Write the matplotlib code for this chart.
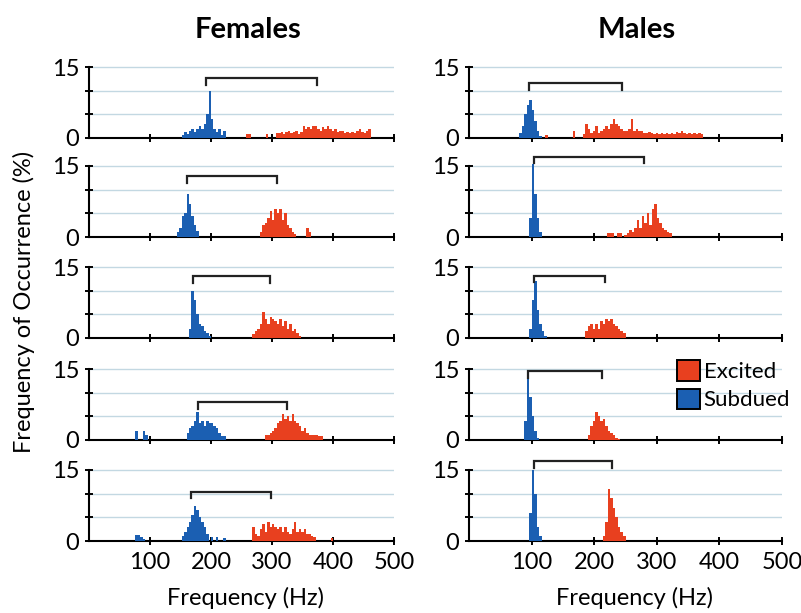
import matplotlib
matplotlib.use("Agg")
import matplotlib.pyplot as plt
from matplotlib.patches import Patch
import numpy as np

plt.rcParams['font.family'] = ['Lato', 'DejaVu Sans']

BIN = 4  # Hz

# ---- Females (rows 1-5): (start frequency, heights in 4-Hz bins) ----
F1_SUB_START = 152
F1_SUB = [0.7, 1.2, 0.8, 1.5, 1.8, 1.2, 2, 2.5, 2, 3, 5, 10, 4, 2, 1.3, 2, 0.6, 1.5]
F1_EXC_START = 258
F1_EXC = [0.8, 0.8, 0, 0, 0, 0, 0, 0, 0.8, 0, 0, 0, 1, 1, 1.2, 0.8, 1.2, 1.5, 1, 1.2,
          1.5, 0.8, 1.2, 2.5, 2, 2.3, 1.8, 2.5, 2.5, 2, 1.5, 2.3, 1.8, 2.5, 2, 1.5, 1.8,
          1.2, 1.5, 1.5, 1, 1.2, 1, 1.3, 1, 1.5, 1.8, 1.2, 1, 1.5, 1.8]

F2_SUB_START = 144
F2_SUB = [1, 2, 4.5, 5, 9, 7, 4.5, 2.5, 1.2]
F2_EXC_START = 280
F2_EXC = [1, 2.5, 3, 4, 5.5, 3.5, 6, 5, 6, 3.5, 5, 2.5, 2, 1, 0.7, 0, 0, 0, 0, 2, 1]

F3_SUB_START = 164
F3_SUB = [2, 10, 8, 5, 3, 2.5, 1.5, 1, 0.5]
F3_EXC_START = 268
F3_EXC = [0.8, 1.5, 2, 3, 5.5, 4, 3, 4.5, 4, 3.5, 3, 4, 2.5, 3.5, 2, 3, 1.5, 2, 1, 0.5]

F4_SUB_START = 76
F4_SUB = [2, 0, 0, 2, 1, 0, 0, 0, 0, 0, 0, 0, 0, 0, 0, 0, 0, 0, 0, 0, 0,
          1.5, 2.5, 3, 4, 6, 3.5, 4, 3, 4, 3.5, 3.5, 3, 2.5, 1.5, 0.8, 0.8]
F4_EXC_START = 288
F4_EXC = [1, 1, 1.5, 2, 2.5, 3.5, 4, 5.5, 4.5, 5, 4, 5.5, 4, 3.5, 3, 2, 2.5, 1.5,
          1, 1, 1, 1, 0.8, 0.8]

F5_SUB_START = 76
F5_SUB = [1.2, 1.2, 0.8, 0.5, 0, 0, 0, 0, 0, 0, 0, 0, 0, 0, 0, 0, 0, 0, 0,
          1, 2, 3, 4, 5.5, 7.5, 6.5, 5, 4, 3, 1.5, 0, 0.8, 0, 0.8, 0, 0, 0.7]
F5_EXC_START = 268
F5_EXC = [3, 1.5, 1, 2.5, 3.5, 2, 4, 3, 3.5, 3, 2.5, 3, 2, 3, 2, 1.5, 2.5, 4, 2, 2.5,
          2, 2.5, 1.5, 1.5, 1, 0.8, 0, 0, 0, 0, 0, 0, 0.7]

# ---- Males ----
M1_SUB_START = 80
M1_SUB = [1, 2.5, 5, 7, 8, 6, 3.5, 1.5, 0.5]
M1_EXC_START = 122
M1_EXC = [0.7, 0, 0, 0, 0, 0, 0, 0, 0, 0, 0, 1.5, 0, 0, 0, 0.8, 3, 2, 1, 1.5, 2.5, 1, 1.5,
          2, 2.5, 2, 3, 4, 3, 2.5, 2, 1.5, 1.5, 2, 4, 1.5, 2, 1.5, 1.5, 1, 1, 1.2, 1, 0.8,
          1, 0.8, 1, 0.8, 1, 0.8, 1, 0.8, 1.2, 1, 1.5, 1, 0.8, 1, 0.8, 1, 0.8, 1, 0.8]

M2_SUB_START = 96
M2_SUB = [4, 15.5, 9, 4, 1]
M2_EXC_START = 220
M2_EXC = [0.8, 0.8, 0.8, 0, 0.8, 0.8, 0, 0.5, 0.8, 1.5, 1, 2, 3.5, 2, 4.5, 3, 5, 2.5,
          6, 7, 4, 3, 2, 1.5, 1, 0.8]

M3_SUB_START = 96
M3_SUB = [2, 8, 12, 6, 3, 1.5, 0.5]
M3_EXC_START = 186
M3_EXC = [1.5, 2.5, 3, 2, 3, 2, 3.5, 3, 4, 3.5, 4, 3, 2.5, 2, 1.5, 1]

M4_SUB_START = 88
M4_SUB = [4, 14, 9, 5, 2, 0.5]
M4_EXC_START = 190
M4_EXC = [1, 3, 4, 6, 5, 4, 4.5, 3, 2, 1.5, 1, 0.5, 0.3]

M5_SUB_START = 96
M5_SUB = [6, 15, 10, 3, 1]
M5_EXC_START = 214
M5_EXC = [1, 4, 11, 9, 7, 5, 3, 2, 1]

# brackets: (left Hz, right Hz, top height)
F_BRACKETS = [(192, 374, 12.7), (160, 309, 12.9), (170, 297, 13.0), (178, 325, 8.0), (168, 298, 10.4)]
M_BRACKETS = [(96, 245, 11.6), (104, 280, 17.0), (104, 218, 13.2), (94, 212, 14.6), (104, 229, 16.8)]

FEMALES = [(F1_SUB_START, F1_SUB, F1_EXC_START, F1_EXC),
           (F2_SUB_START, F2_SUB, F2_EXC_START, F2_EXC),
           (F3_SUB_START, F3_SUB, F3_EXC_START, F3_EXC),
           (F4_SUB_START, F4_SUB, F4_EXC_START, F4_EXC),
           (F5_SUB_START, F5_SUB, F5_EXC_START, F5_EXC)]
MALES = [(M1_SUB_START, M1_SUB, M1_EXC_START, M1_EXC),
         (M2_SUB_START, M2_SUB, M2_EXC_START, M2_EXC),
         (M3_SUB_START, M3_SUB, M3_EXC_START, M3_EXC),
         (M4_SUB_START, M4_SUB, M4_EXC_START, M4_EXC),
         (M5_SUB_START, M5_SUB, M5_EXC_START, M5_EXC)]

XTICKS = [100, 200, 300, 400, 500]
BLUE = "#1b5fb2"
RED = "#e8401f"
GRID = "#c3d8e2"

W, H = 801, 613
fig = plt.figure(figsize=(W / 100, H / 100), dpi=100)

zero_px = [138, 237, 338, 440, 541]
unit_px = 71 / 15.0
YMAX = 17.8
col_px = [(89, 394), (469, 782)]


def draw(ax, data, bracket, bottom_row):
    ss, sv, es, ev = data
    sx = ss + BIN * np.arange(len(sv)) + BIN / 2
    ex = es + BIN * np.arange(len(ev)) + BIN / 2
    ax.bar(sx, sv, width=BIN, color=BLUE, linewidth=0, zorder=3, clip_on=False)
    ax.bar(ex, ev, width=BIN, color=RED, linewidth=0, zorder=3, clip_on=False)
    for g in (5, 10, 15):
        ax.plot([0, 500], [g, g], color=GRID, lw=1.0, zorder=1)
    l, r, t = bracket
    ax.plot([l, l, r, r], [t - 1.4, t, t, t - 1.4], color="#222222", lw=1.6,
            zorder=4, clip_on=False, solid_joinstyle='miter')
    ax.set_xlim(0, 500)
    ax.set_ylim(0, YMAX)
    for s in ('top', 'right'):
        ax.spines[s].set_visible(False)
    ax.spines['left'].set_bounds(0, 15)
    ax.spines['left'].set_linewidth(1.5)
    ax.spines['bottom'].set_linewidth(1.5)
    ax.set_yticks([0, 5, 10, 15])
    ax.set_yticklabels(['0', '', '', '15'], fontsize=17)
    ax.set_xticks(XTICKS)
    ax.tick_params(axis='both', direction='inout', length=6, width=1.4, color='black')
    ax.tick_params(axis='y', pad=4)
    if bottom_row:
        ax.set_xticklabels([str(v) for v in XTICKS], fontsize=17)
        ax.tick_params(axis='x', pad=5)
    else:
        ax.set_xticklabels([])
    ax.patch.set_alpha(0)


for ci, (group, brackets) in enumerate([(FEMALES, F_BRACKETS), (MALES, M_BRACKETS)]):
    x0, x1 = col_px[ci]
    for ri in range(5):
        z = zero_px[ri]
        hpx = YMAX * unit_px
        ax = fig.add_axes([x0 / W, (H - z) / H, (x1 - x0) / W, hpx / H])
        draw(ax, group[ri], brackets[ri], ri == 4)
        if ci == 1 and ri == 3:
            handles = [Patch(facecolor=RED, edgecolor='black', linewidth=1.4, label='Excited'),
                       Patch(facecolor=BLUE, edgecolor='black', linewidth=1.4, label='Subdued')]
            fig.legend(handles=handles, loc='upper left', bbox_to_anchor=(677 / W, 1 - 360 / H),
                       frameon=False, fontsize=16, handlelength=1.05, handleheight=1.05,
                       handletextpad=0.15, labelspacing=0.3, borderpad=0, borderaxespad=0)

fig.text(248 / W, 1 - 30 / H, "Females", ha='center', va='center', fontsize=21, fontweight='bold')
fig.text(637 / W, 1 - 30 / H, "Males", ha='center', va='center', fontsize=21, fontweight='bold')
fig.text(246 / W, 1 - 598 / H, "Frequency (Hz)", ha='center', va='center', fontsize=17)
fig.text(634 / W, 1 - 598 / H, "Frequency (Hz)", ha='center', va='center', fontsize=17)
fig.text(24 / W, 1 - 302 / H, "Frequency of Occurrence (%)", ha='center', va='center',
         rotation=90, fontsize=17)

fig.savefig("out.png", dpi=100)
